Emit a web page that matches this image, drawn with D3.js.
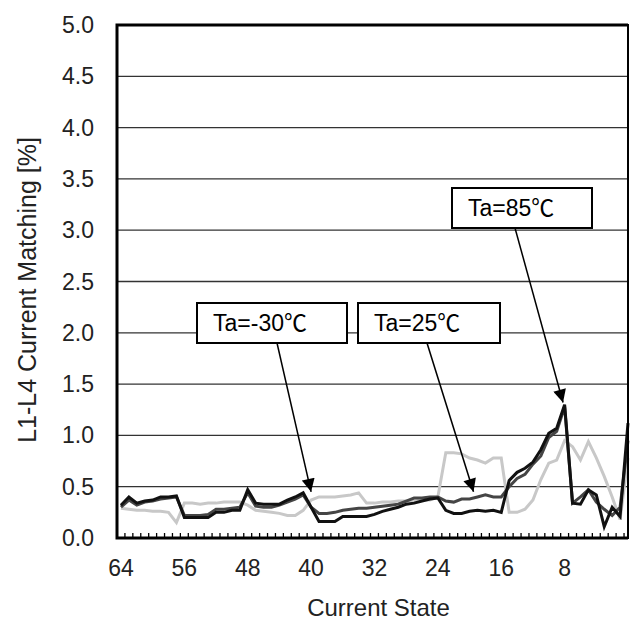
<!DOCTYPE html>
<html>
<head>
  <meta charset="utf-8">
  <title>L1-L4 Current Matching</title>
  <script src="https://d3js.org/d3.v7.min.js"></script>
  <style>
    body { margin: 0; background: #fff; }
    svg { font-family: "Liberation Sans", Arial, "Noto Sans CJK JP", sans-serif; }
    .tick-label { font-size: 23px; fill: #222; }
    .axis-title { font-size: 24px; fill: #222; }
    .note { font-size: 23px; fill: #000; }
  </style>
</head>
<body>
  <script>
    // current state 64 -> 0
    var states = d3.range(64, -1, -1);

    var ta85 = [0.32, 0.40, 0.34, 0.36, 0.37, 0.40, 0.40, 0.41, 0.20, 0.20,
                0.20, 0.20, 0.25, 0.25, 0.27, 0.27, 0.47, 0.34, 0.33, 0.33,
                0.33, 0.37, 0.40, 0.44, 0.30, 0.16, 0.16, 0.16, 0.21, 0.21,
                0.21, 0.21, 0.23, 0.26, 0.28, 0.30, 0.33, 0.34, 0.36, 0.38,
                0.39, 0.27, 0.24, 0.24, 0.26, 0.27, 0.26, 0.27, 0.25, 0.56,
                0.64, 0.68, 0.74, 0.86, 1.02, 1.07, 1.30, 0.34, 0.33, 0.47,
                0.42, 0.11, 0.30, 0.21, 1.12];

    var ta25 = [0.30, 0.37, 0.32, 0.35, 0.36, 0.38, 0.39, 0.40, 0.22, 0.22,
                0.22, 0.23, 0.28, 0.28, 0.29, 0.30, 0.44, 0.31, 0.30, 0.30,
                0.32, 0.35, 0.38, 0.42, 0.30, 0.24, 0.24, 0.25, 0.27, 0.28,
                0.29, 0.29, 0.30, 0.31, 0.32, 0.33, 0.36, 0.39, 0.39, 0.40,
                0.40, 0.36, 0.35, 0.38, 0.38, 0.40, 0.42, 0.40, 0.40, 0.50,
                0.58, 0.62, 0.72, 0.80, 0.98, 1.04, 1.28, 0.34, 0.40, 0.47,
                0.35, 0.28, 0.22, 0.30, 0.95];

    var taM30 = [0.29, 0.28, 0.27, 0.27, 0.26, 0.26, 0.25, 0.15, 0.34, 0.34,
                 0.33, 0.34, 0.34, 0.35, 0.35, 0.35, 0.32, 0.27, 0.26, 0.25,
                 0.24, 0.22, 0.22, 0.27, 0.37, 0.40, 0.40, 0.40, 0.41, 0.42,
                 0.44, 0.34, 0.34, 0.35, 0.35, 0.36, 0.36, 0.36, 0.37, 0.37,
                 0.40, 0.83, 0.83, 0.82, 0.78, 0.76, 0.73, 0.78, 0.78, 0.25,
                 0.25, 0.28, 0.37, 0.57, 0.73, 0.76, 0.95, 0.89, 0.76, 0.94,
                 0.78, 0.60, 0.40, 0.18, 0.78];

    var xTicks = [64, 56, 48, 40, 32, 24, 16, 8];
    var yTicks = [0, 0.5, 1, 1.5, 2, 2.5, 3, 3.5, 4, 4.5, 5];

    var notes = [
      { text: "Ta=-30\u2103", box: [197, 303, 150, 40], from: [277, 343], state: 40, value: 0.45 },
      { text: "Ta=25\u2103",  box: [358, 303, 142, 40], from: [427, 343], state: 19.5, value: 0.45 },
      { text: "Ta=85\u2103",  box: [452, 188, 140, 40], from: [515, 228], state: 8.2, value: 1.32 }
    ];

    var width = 635, height = 623;
    var plotLeft = 117, plotRight = 628, plotTop = 25, plotBottom = 538;

    var svg = d3.select("body").append("svg")
      .attr("width", width)
      .attr("height", height);

    var x = d3.scaleLinear().domain([64.5, 0]).range([plotLeft, plotRight]);
    var y = d3.scaleLinear().domain([0, 5]).range([plotBottom, plotTop]);

    // gridlines
    svg.append("g")
      .selectAll("line")
      .data(yTicks.filter(function(d) { return d > 0 && d < 5; }))
      .enter().append("line")
      .attr("x1", plotLeft).attr("x2", plotRight)
      .attr("y1", function(d) { return y(d); })
      .attr("y2", function(d) { return y(d); })
      .attr("stroke", "#333")
      .attr("stroke-width", 1.3);

    // y labels
    svg.append("g")
      .selectAll("text")
      .data(yTicks)
      .enter().append("text")
      .attr("class", "tick-label")
      .attr("x", 94)
      .attr("y", function(d) { return y(d) + 8; })
      .attr("text-anchor", "end")
      .text(function(d) { return d3.format(".1f")(d); });

    // minor ticks on x axis, inside
    svg.append("g")
      .selectAll("line")
      .data(d3.range(63.5, 0, -1))
      .enter().append("line")
      .attr("x1", function(d) { return x(d); })
      .attr("x2", function(d) { return x(d); })
      .attr("y1", plotBottom)
      .attr("y2", plotBottom - 5)
      .attr("stroke", "#000")
      .attr("stroke-width", 1.3);

    // x labels
    svg.append("g")
      .selectAll("text")
      .data(xTicks)
      .enter().append("text")
      .attr("class", "tick-label")
      .attr("x", function(d) { return x(d); })
      .attr("y", 576)
      .attr("text-anchor", "middle")
      .text(function(d) { return d; });

    svg.append("text")
      .attr("class", "axis-title")
      .attr("x", (plotLeft + plotRight) / 2 + 6)
      .attr("y", 616)
      .attr("text-anchor", "middle")
      .text("Current State");

    svg.append("text")
      .attr("class", "axis-title")
      .attr("transform", "translate(36,290) rotate(-90)")
      .attr("text-anchor", "middle")
      .style("font-size", "25px")
      .text("L1-L4 Current Matching [%]");

    // series
    var line = d3.line()
      .x(function(d, i) { return x(states[i]); })
      .y(function(d) { return y(d); });

    var series = [
      { values: taM30, color: "#c8c8c8" },
      { values: ta25, color: "#454545" },
      { values: ta85, color: "#111" }
    ];

    svg.append("g")
      .selectAll("path")
      .data(series)
      .enter().append("path")
      .attr("d", function(d) { return line(d.values); })
      .attr("fill", "none")
      .attr("stroke", function(d) { return d.color; })
      .attr("stroke-width", 3)
      .attr("stroke-linejoin", "miter");

    // frame
    svg.append("rect")
      .attr("x", plotLeft).attr("y", plotTop)
      .attr("width", plotRight - plotLeft).attr("height", plotBottom - plotTop)
      .attr("fill", "none")
      .attr("stroke", "#000")
      .attr("stroke-width", 2);
    svg.append("path")
      .attr("d", "M" + plotRight + "," + plotTop + "H" + plotLeft + "V" + plotBottom + "H" + plotRight)
      .attr("fill", "none")
      .attr("stroke", "#000")
      .attr("stroke-width", 3);

    // arrow head
    svg.append("defs").append("marker")
      .attr("id", "head")
      .attr("viewBox", "0 0 10 10")
      .attr("refX", 10).attr("refY", 5)
      .attr("markerWidth", 16).attr("markerHeight", 13)
      .attr("markerUnits", "userSpaceOnUse")
      .attr("orient", "auto")
      .append("path")
      .attr("d", "M0,0L10,5L0,10Z")
      .attr("fill", "#000");

    // annotations
    var g = svg.append("g").selectAll("g")
      .data(notes)
      .enter().append("g");

    g.append("line")
      .attr("x1", function(d) { return d.from[0]; })
      .attr("y1", function(d) { return d.from[1]; })
      .attr("x2", function(d) { return x(d.state); })
      .attr("y2", function(d) { return y(d.value); })
      .attr("stroke", "#000")
      .attr("stroke-width", 1.5)
      .attr("marker-end", "url(#head)");

    g.append("rect")
      .attr("x", function(d) { return d.box[0]; })
      .attr("y", function(d) { return d.box[1]; })
      .attr("width", function(d) { return d.box[2]; })
      .attr("height", function(d) { return d.box[3]; })
      .attr("fill", "#fff")
      .attr("stroke", "#000")
      .attr("stroke-width", 2);

    g.append("text")
      .attr("class", "note")
      .attr("x", function(d) { return d.box[0] + 16; })
      .attr("y", function(d) { return d.box[1] + 28; })
      .text(function(d) { return d.text; });
  </script>
</body>
</html>
